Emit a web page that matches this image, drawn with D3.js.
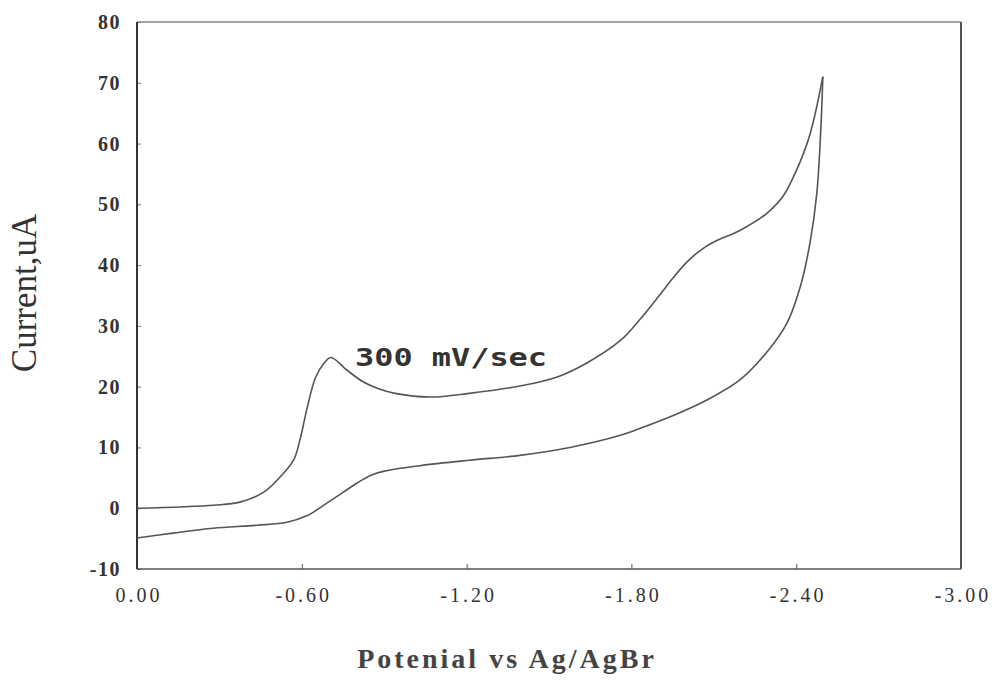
<!DOCTYPE html>
<html>
<head>
<meta charset="utf-8">
<script src="https://cdn.jsdelivr.net/npm/d3@7"></script>
<style>
  body { margin: 0; background: #fff; }
  svg { display: block; }
</style>
</head>
<body>
<script>
// cyclic voltammogram, 300 mV/sec
var forwardV = [0.00, -0.28, -0.375, -0.46, -0.51, -0.57, -0.593, -0.62, -0.65, -0.68, -0.706, -0.765, -0.823, -0.877, -0.94, -1.067, -1.21, -1.394, -1.53, -1.638, -1.76, -1.83, -1.90, -1.95, -2.00, -2.05, -2.10, -2.195, -2.29, -2.35, -2.40, -2.45, -2.497];
var forwardI = [0.0, 0.5, 1.0, 2.6, 4.6, 7.9, 11.2, 16.6, 21.5, 23.8, 24.8, 22.7, 20.8, 19.7, 18.9, 18.3, 18.9, 20.1, 21.6, 23.9, 27.6, 31.0, 34.9, 37.8, 40.4, 42.4, 43.8, 45.7, 48.4, 51.2, 55.5, 61.5, 71.0];
var reverseV = [-2.497, -2.49, -2.475, -2.45, -2.414, -2.366, -2.29, -2.195, -2.075, -1.95, -1.83, -1.76, -1.576, -1.394, -1.21, -1.03, -0.90, -0.85, -0.80, -0.75, -0.69, -0.62, -0.546, -0.437, -0.277, -0.131, 0.00];
var reverseI = [71.0, 62.7, 51.8, 43.6, 36.3, 30.4, 25.5, 21.1, 17.8, 15.2, 13.1, 12.0, 10.0, 8.7, 7.9, 7.0, 6.1, 5.4, 4.1, 2.6, 0.8, -1.2, -2.3, -2.8, -3.3, -4.1, -4.9];
var xTicks = [0, -0.6, -1.2, -1.8, -2.4, -3.0];
var yTicks = [-10, 0, 10, 20, 30, 40, 50, 60, 70, 80];

var width = 996, height = 695;
var plot = { left: 137, right: 961, top: 22, bottom: 569 };

var svg = d3.select("body").append("svg")
    .attr("width", width)
    .attr("height", height);

var x = d3.scaleLinear().domain([0, -3]).range([plot.left, plot.right]);
var y = d3.scaleLinear().domain([-10, 80]).range([plot.bottom, plot.top]);

// axes: ticks point inward, labels drawn separately below
svg.append("g")
    .attr("transform", `translate(${plot.left},0)`)
    .call(d3.axisRight(y).tickValues(yTicks).tickSize(4).tickFormat(""))
    .call((g) => g.select(".domain").remove())
    .selectAll("line").attr("stroke", "#777");

svg.append("g")
    .attr("transform", `translate(0,${plot.bottom})`)
    .call(d3.axisTop(x).tickValues(xTicks).tickSize(5).tickFormat(""))
    .call((g) => g.select(".domain").remove())
    .selectAll("line").attr("stroke", "#555");

// frame
svg.append("line").attr("x1", plot.left).attr("x2", plot.right).attr("y1", plot.top).attr("y2", plot.top)
    .attr("stroke", "#888").attr("stroke-width", 1.5);
svg.append("line").attr("x1", plot.left).attr("x2", plot.right).attr("y1", plot.bottom).attr("y2", plot.bottom)
    .attr("stroke", "#555").attr("stroke-width", 1.5);
svg.append("line").attr("x1", plot.left).attr("x2", plot.left).attr("y1", plot.top).attr("y2", plot.bottom)
    .attr("stroke", "#333").attr("stroke-width", 2);
svg.append("line").attr("x1", plot.right).attr("x2", plot.right).attr("y1", plot.top).attr("y2", plot.bottom)
    .attr("stroke", "#555").attr("stroke-width", 2);

// tick labels
svg.selectAll(".ylab")
    .data(yTicks)
    .enter()
    .append("text")
    .attr("class", "ylab")
    .attr("x", 121)
    .attr("y", (d) => y(d) + 7)
    .attr("text-anchor", "end")
    .attr("font-family", "Liberation Serif")
    .attr("font-weight", "bold")
    .attr("font-size", "20px")
    .attr("letter-spacing", "1.5px")
    .attr("fill", "#333")
    .text((d) => d);

svg.selectAll(".xlab")
    .data(xTicks)
    .enter()
    .append("text")
    .attr("class", "xlab")
    .attr("x", (d) => x(d) + 2)
    .attr("y", 602)
    .attr("text-anchor", "middle")
    .attr("font-family", "Liberation Serif")
    .attr("font-size", "20px")
    .attr("letter-spacing", "3px")
    .attr("fill", "#333")
    .text((d) => d.toFixed(2));

// curves
var line = d3.line()
    .x((d) => x(d[0]))
    .y((d) => y(d[1]))
    .curve(d3.curveCatmullRom);

svg.append("path")
    .datum(d3.zip(forwardV, forwardI))
    .attr("d", line)
    .attr("fill", "none")
    .attr("stroke", "#555")
    .attr("stroke-width", 1.6);

svg.append("path")
    .datum(d3.zip(reverseV, reverseI))
    .attr("d", line)
    .attr("fill", "none")
    .attr("stroke", "#555")
    .attr("stroke-width", 1.6);

// annotation
svg.append("text")
    .attr("x", 355)
    .attr("y", 366)
    .attr("font-family", "DejaVu Sans Mono")
    .attr("font-weight", "bold")
    .attr("font-size", "25px")
    .attr("textLength", 192)
    .attr("lengthAdjust", "spacingAndGlyphs")
    .attr("fill", "#333")
    .text("300 mV/sec");

// axis titles
svg.append("text")
    .attr("transform", "translate(36,293) rotate(-90)")
    .attr("text-anchor", "middle")
    .attr("font-family", "Liberation Serif")
    .attr("font-size", "35px")
    .attr("fill", "#333")
    .text("Current,uA");

svg.append("text")
    .attr("x", 507)
    .attr("y", 668)
    .attr("text-anchor", "middle")
    .attr("font-family", "Liberation Serif")
    .attr("font-weight", "bold")
    .attr("font-size", "28px")
    .attr("letter-spacing", "3px")
    .attr("fill", "#444")
    .text("Potenial vs Ag/AgBr");
</script>
</body>
</html>
